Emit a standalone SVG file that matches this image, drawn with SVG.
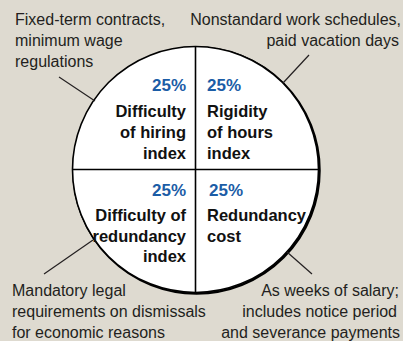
<svg xmlns="http://www.w3.org/2000/svg" width="403" height="341" viewBox="0 0 403 341">
<style>
.note{font-family:"Liberation Sans",Arial,sans-serif;font-size:16px;fill:#231f20}
.lbl{font-family:"Liberation Sans",Arial,sans-serif;font-size:16.5px;font-weight:bold;fill:#111}
.pct{font-family:"Liberation Sans",Arial,sans-serif;font-size:17px;font-weight:bold;fill:#1b5ca6}
.r{text-anchor:end}
.ln{stroke:#231f20;stroke-width:1.2;fill:none}
</style>
<rect width="403" height="341" fill="#dedad0"/>
<g id="pie">
<circle cx="196.5" cy="170.5" r="123" fill="none" stroke="#000" stroke-width="2.5"/>
<circle cx="195.5" cy="169.5" r="123" fill="#fff" stroke="#000" stroke-width="1.6"/>
<line x1="195.5" y1="46.5" x2="195.5" y2="292.5" stroke="#000" stroke-width="1.6"/>
<line x1="72.5" y1="169.5" x2="318.5" y2="169.5" stroke="#000" stroke-width="1.6"/>
</g>
<g id="hiring">
<text class="pct r" x="186" y="91">25%</text>
<text class="lbl r" x="186" y="117">Difficulty</text>
<text class="lbl r" x="186" y="138">of hiring</text>
<text class="lbl r" x="186" y="159">index</text>
</g>
<g id="hours">
<text class="pct" x="207" y="91">25%</text>
<text class="lbl" x="207" y="117">Rigidity</text>
<text class="lbl" x="207" y="138">of hours</text>
<text class="lbl" x="207" y="159">index</text>
</g>
<g id="redundancy-difficulty">
<text class="pct r" x="186" y="196">25%</text>
<text class="lbl r" x="186" y="221">Difficulty of</text>
<text class="lbl r" x="186" y="242">redundancy</text>
<text class="lbl r" x="186" y="262">index</text>
</g>
<g id="redundancy-cost">
<text class="pct" x="209" y="196">25%</text>
<text class="lbl" x="207" y="221">Redundancy</text>
<text class="lbl" x="207" y="242">cost</text>
</g>
<g id="note-tl">
<text class="note" x="15" y="25">Fixed-term contracts,</text>
<text class="note" x="15" y="46">minimum wage</text>
<text class="note" x="15" y="67">regulations</text>
</g>
<g id="note-tr">
<text class="note r" x="401" y="25">Nonstandard work schedules,</text>
<text class="note r" x="399" y="46">paid vacation days</text>
</g>
<g id="note-bl">
<text class="note" x="12" y="296">Mandatory legal</text>
<text class="note" x="12" y="317">requirements on dismissals</text>
<text class="note" x="12" y="338">for economic reasons</text>
</g>
<g id="note-br">
<text class="note r" x="399" y="296">As weeks of salary;</text>
<text class="note r" x="397" y="317">includes notice period</text>
<text class="note r" x="400" y="338">and severance payments</text>
</g>
<g id="connectors">
<line class="ln" x1="59" y1="77" x2="95" y2="101"/>
<line class="ln" x1="309" y1="55" x2="283" y2="83"/>
<line class="ln" x1="44" y1="274" x2="93" y2="240"/>
<line class="ln" x1="287" y1="252" x2="312" y2="274"/>
</g>
</svg>
